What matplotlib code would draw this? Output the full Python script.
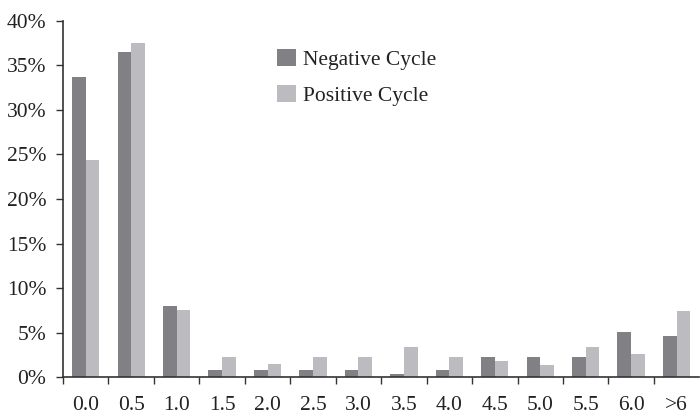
import matplotlib
matplotlib.use("Agg")
import matplotlib.pyplot as plt
import numpy as np
from matplotlib.ticker import FuncFormatter

categories = ["0.0", "0.5", "1.0", "1.5", "2.0", "2.5", "3.0", "3.5", "4.0", "4.5", "5.0", "5.5", "6.0", ">6"]
negative = [33.7, 36.5, 8.0, 0.75, 0.75, 0.75, 0.75, 0.4, 0.75, 2.25, 2.25, 2.25, 5.1, 4.6]
positive = [24.4, 37.5, 7.5, 2.25, 1.5, 2.25, 2.25, 3.4, 2.25, 1.85, 1.4, 3.35, 2.6, 7.45]

plt.rcParams['font.family'] = ['Liberation Serif', 'DejaVu Serif']

fig = plt.figure(figsize=(7, 4.17), dpi=100)
ax = fig.add_axes([0.09, 0.0955, 0.909, 0.8545])

x = np.arange(len(categories))
w = 0.3
ax.bar(x - w/2, negative, w, color="#808085", label="Negative Cycle")
ax.bar(x + w/2, positive, w, color="#bcbcc0", label="Positive Cycle")

ax.set_xlim(-0.5, len(categories) - 0.5)
ax.set_ylim(0, 40)
ax.set_yticks(np.arange(0, 41, 5))
ax.yaxis.set_major_formatter(FuncFormatter(lambda v, p: f"{int(v)}%"))

ax.set_xticks(x)
ax.set_xticklabels(categories)
ax.set_xticks(np.arange(-0.5, len(categories) - 0.5, 1), minor=True)
ax.tick_params(axis='x', which='major', length=0, pad=13.5, labelsize=15.5, labelcolor='#222222')
ax.tick_params(axis='x', which='minor', length=5, width=1, direction='out', color='#333333')
ax.tick_params(axis='y', length=5, width=1, direction='out', labelsize=15.5, pad=7,
               color='#333333', labelcolor='#222222')

for s in ['top', 'right']:
    ax.spines[s].set_visible(False)
for s in ['left', 'bottom']:
    ax.spines[s].set_linewidth(1.2)
    ax.spines[s].set_color('#333333')

leg = ax.legend(loc='upper left', bbox_to_anchor=(0.3365, 0.922), frameon=False, fontsize=15.5,
                handlelength=0.88, handleheight=0.88, labelspacing=0.68, handletextpad=0.33,
                borderpad=0, borderaxespad=0)
for t in leg.get_texts():
    t.set_color('#222222')

fig.savefig("out.png", dpi=100)
